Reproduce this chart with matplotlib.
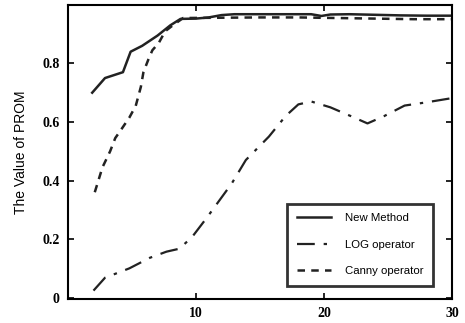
import matplotlib.pyplot as plt

# 数据
x_new = [1.9, 2.9, 3.6, 4.3, 4.9, 5.8, 7.0, 8.0, 8.8, 10, 11, 12, 13, 15, 17, 19, 19.8, 20.5, 22, 24, 26, 28, 30]
y_new = [0.70, 0.75, 0.76, 0.77, 0.84, 0.86, 0.895, 0.93, 0.952, 0.953, 0.957, 0.965, 0.968, 0.968, 0.968, 0.968, 0.962, 0.967, 0.968, 0.966, 0.964, 0.963, 0.963]

x_log = [2.0, 2.9, 3.5, 4.8, 6.4, 7.7, 8.7, 9.7, 10.8, 11.8, 12.8, 13.9, 15.7, 17.0, 18.0, 19.0, 20.5, 22.1, 23.4, 24.7, 26.3, 28.0, 29.8]
y_log = [0.024, 0.068, 0.078, 0.10, 0.136, 0.157, 0.167, 0.207, 0.27, 0.33, 0.39, 0.47, 0.55, 0.62, 0.66, 0.67, 0.65, 0.62, 0.595, 0.62, 0.656, 0.667, 0.68]

x_canny = [2.1, 2.7, 3.3, 3.7, 4.1, 4.8, 5.3, 5.7, 5.9, 6.3, 6.6, 7.1, 7.6, 8.2, 9.0, 12, 15, 18, 21, 24, 27, 30]
y_canny = [0.36, 0.445, 0.50, 0.545, 0.57, 0.615, 0.655, 0.72, 0.77, 0.815, 0.845, 0.87, 0.91, 0.93, 0.955, 0.956, 0.957, 0.957, 0.955, 0.953, 0.951, 0.951]

xticks = [10, 20, 30]
yticks = [0, 0.2, 0.4, 0.6, 0.8]
ytick_labels = ["0", "0.2", "0.4", "0.6", "0.8"]

fig = plt.figure(figsize=(4.65, 3.23), dpi=100)
ax = fig.add_axes([0.146, 0.074, 0.826, 0.911])

ax.plot(x_new, y_new, color="#222222", linewidth=1.8, label="New Method")
ax.plot(x_log, y_log, color="#222222", linewidth=1.6, linestyle=(0, (8, 4, 1.5, 4)), label="LOG operator")
ax.plot(x_canny, y_canny, color="#222222", linewidth=1.8, linestyle=(0, (3, 2.5)), label="Canny operator")

ax.set_xlim(0, 29.8)
ax.set_ylim(-0.005, 1.0)
ax.set_xticks(xticks)
ax.set_yticks(yticks)
ax.set_yticklabels(ytick_labels)
ax.tick_params(direction="in", top=True, right=True, length=4, width=1.2, pad=6)
for lab in ax.get_xticklabels() + ax.get_yticklabels():
    lab.set_family("Liberation Serif")
    lab.set_fontweight("bold")
    lab.set_fontsize(10)
for s in ax.spines.values():
    s.set_linewidth(1.5)

ax.set_ylabel("The Value of PROM", family="Liberation Sans", fontsize=10, labelpad=10)

leg = ax.legend(loc="lower right", bbox_to_anchor=(0.965, 0.025), prop={"family": "Liberation Sans", "size": 8.2},
                frameon=True, fancybox=False, handlelength=3.0, handletextpad=1.2,
                labelspacing=1.45, borderpad=0.85, edgecolor="black")
leg.get_frame().set_linewidth(2.0)

fig.savefig("out.png", dpi=100)
